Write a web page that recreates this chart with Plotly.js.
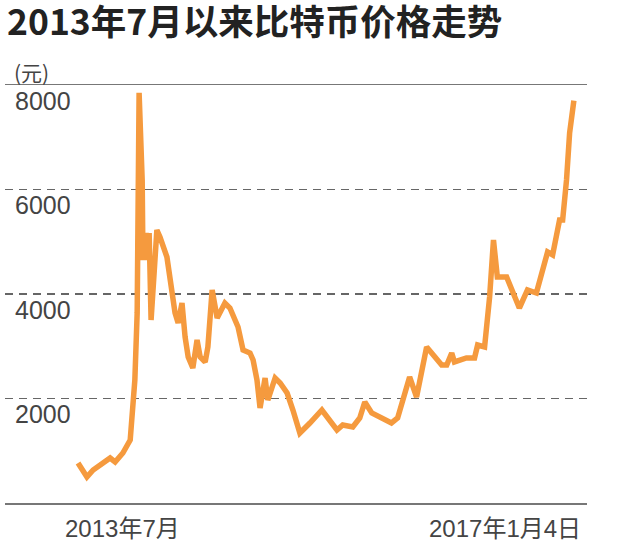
<!DOCTYPE html>
<html>
<head>
<meta charset="utf-8">
<script src="https://cdn.plot.ly/plotly-3.0.1.min.js"></script>
<style>html,body{margin:0;padding:0;background:#fff;}#chart{width:622px;height:550px;}</style>
</head>
<body>
<div id="chart"></div>
<script>
const dates = [
  "2013-07-01","2013-07-24","2013-08-09","2013-09-22","2013-10-05","2013-10-25","2013-11-13","2013-11-20",
  "2013-11-25","2013-12-01","2013-12-03","2013-12-06","2013-12-14","2013-12-16","2013-12-24","2013-12-29",
  "2014-01-01","2014-01-06","2014-01-21","2014-01-29","2014-02-16","2014-03-01","2014-03-09","2014-03-17",
  "2014-03-27","2014-04-04","2014-04-12","2014-04-24","2014-05-05","2014-05-13","2014-05-26","2014-06-02",
  "2014-06-13","2014-06-26","2014-07-16","2014-07-29","2014-08-19","2014-09-01","2014-09-19","2014-09-27",
  "2014-10-07","2014-10-15","2014-10-28","2014-11-04","2014-11-23","2014-12-06","2014-12-24","2015-01-08",
  "2015-01-26","2015-02-21","2015-03-24","2015-05-02","2015-05-17","2015-06-12","2015-06-30","2015-07-13",
  "2015-07-31","2015-09-20","2015-10-06","2015-11-06","2015-11-24","2015-12-20","2016-01-28","2016-02-10",
  "2016-02-23","2016-03-01","2016-04-01","2016-04-22","2016-04-30","2016-05-18","2016-05-31","2016-06-10",
  "2016-06-20","2016-07-14","2016-08-16","2016-09-06","2016-09-29","2016-10-28","2016-11-10","2016-11-28",
  "2016-12-06","2016-12-16","2016-12-24","2017-01-04"
];
const prices = [
  766, 498, 632, 861, 785, 957, 1206, 1723,
  2354, 3637, 5551, 7850, 6182, 4651, 5168, 4651,
  5168, 3502, 5225, 5091, 4708, 4134, 3637, 3445,
  3828, 3177, 2794, 2584, 3120, 2794, 2699, 2986,
  4077, 3541, 3828, 3732, 3369, 2928, 2871, 2737,
  2354, 1818, 2393, 1971, 2393, 2297, 2105, 1780,
  1340, 1531, 1780, 1397, 1493, 1455, 1627, 1933,
  1723, 1531, 1627, 2412, 2029, 2986, 2641, 2641,
  2871, 2699, 2775, 2775, 3024, 2986, 3943, 5034,
  4326, 4326, 3732, 4077, 4019, 4804, 4747, 5417,
  5417, 6182, 7082, 7700
];
const yTicks = [2000, 4000, 6000, 8000];
const yTickText = ["2000", "4000", "6000", "8000"];
const titleText = "2013年7月以来比特币价格走势";
const unitText = "(元)";
const xStartLabel = "2013年7月";
const xEndLabel = "2017年1月4日";

const trace = {
  x: dates, y: prices, type: "scatter", mode: "lines",
  line: {color: "#f59a3e", width: 5.5, shape: "linear"},
  hoverinfo: "skip"
};

const layout = {
  width: 622, height: 550,
  margin: {l: 5, r: 35, t: 85, b: 47},
  paper_bgcolor: "#fff", plot_bgcolor: "#fff",
  showlegend: false,
  title: {
    text: titleText,
    font: {family: "Noto Sans CJK SC", size: 35.5, color: "#222", weight: "bold"},
    xref: "container", yref: "container", x: 7/622, xanchor: "left", y: 1 - 23/550, yanchor: "middle"
  },
  xaxis: {
    type: "date",
    range: ["2012-12-24", "2017-02-07"],
    showticklabels: false, ticks: "", showgrid: false, zeroline: false,
    showline: true, mirror: true, linecolor: "#777", linewidth: 1.5
  },
  yaxis: {
    range: [0, 8000],
    tickvals: yTicks, ticktext: yTickText,
    ticklabelposition: "inside", ticklabelshift: 16, ticklabelstandoff: 7,
    ticks: "",
    tickfont: {family: "Liberation Sans", size: 25, color: "#444"},
    showgrid: true, gridcolor: "#666", gridwidth: 1.2, griddash: "8px,6px",
    zeroline: false, showline: false
  },
  annotations: [
    {text: unitText, xref: "paper", yref: "paper", x: 0.012, y: (503-72)/418, xanchor: "left", yanchor: "middle",
     showarrow: false, font: {family: "Noto Sans CJK SC", size: 21, color: "#444"}},
    {text: xStartLabel, xref: "paper", yref: "paper", x: (63-5)/582, y: (503-528)/418, xanchor: "left", yanchor: "middle",
     showarrow: false, font: {family: "Liberation Sans, Noto Sans CJK SC", size: 24, color: "#444"}},
    {text: xEndLabel, xref: "paper", yref: "paper", x: (583-5)/582, y: (503-528)/418, xanchor: "right", yanchor: "middle",
     showarrow: false, font: {family: "Liberation Sans, Noto Sans CJK SC", size: 24, color: "#444"}}
  ]
};

Plotly.newPlot("chart", [trace], layout, {displayModeBar: false, staticPlot: true});
</script>
</body>
</html>
